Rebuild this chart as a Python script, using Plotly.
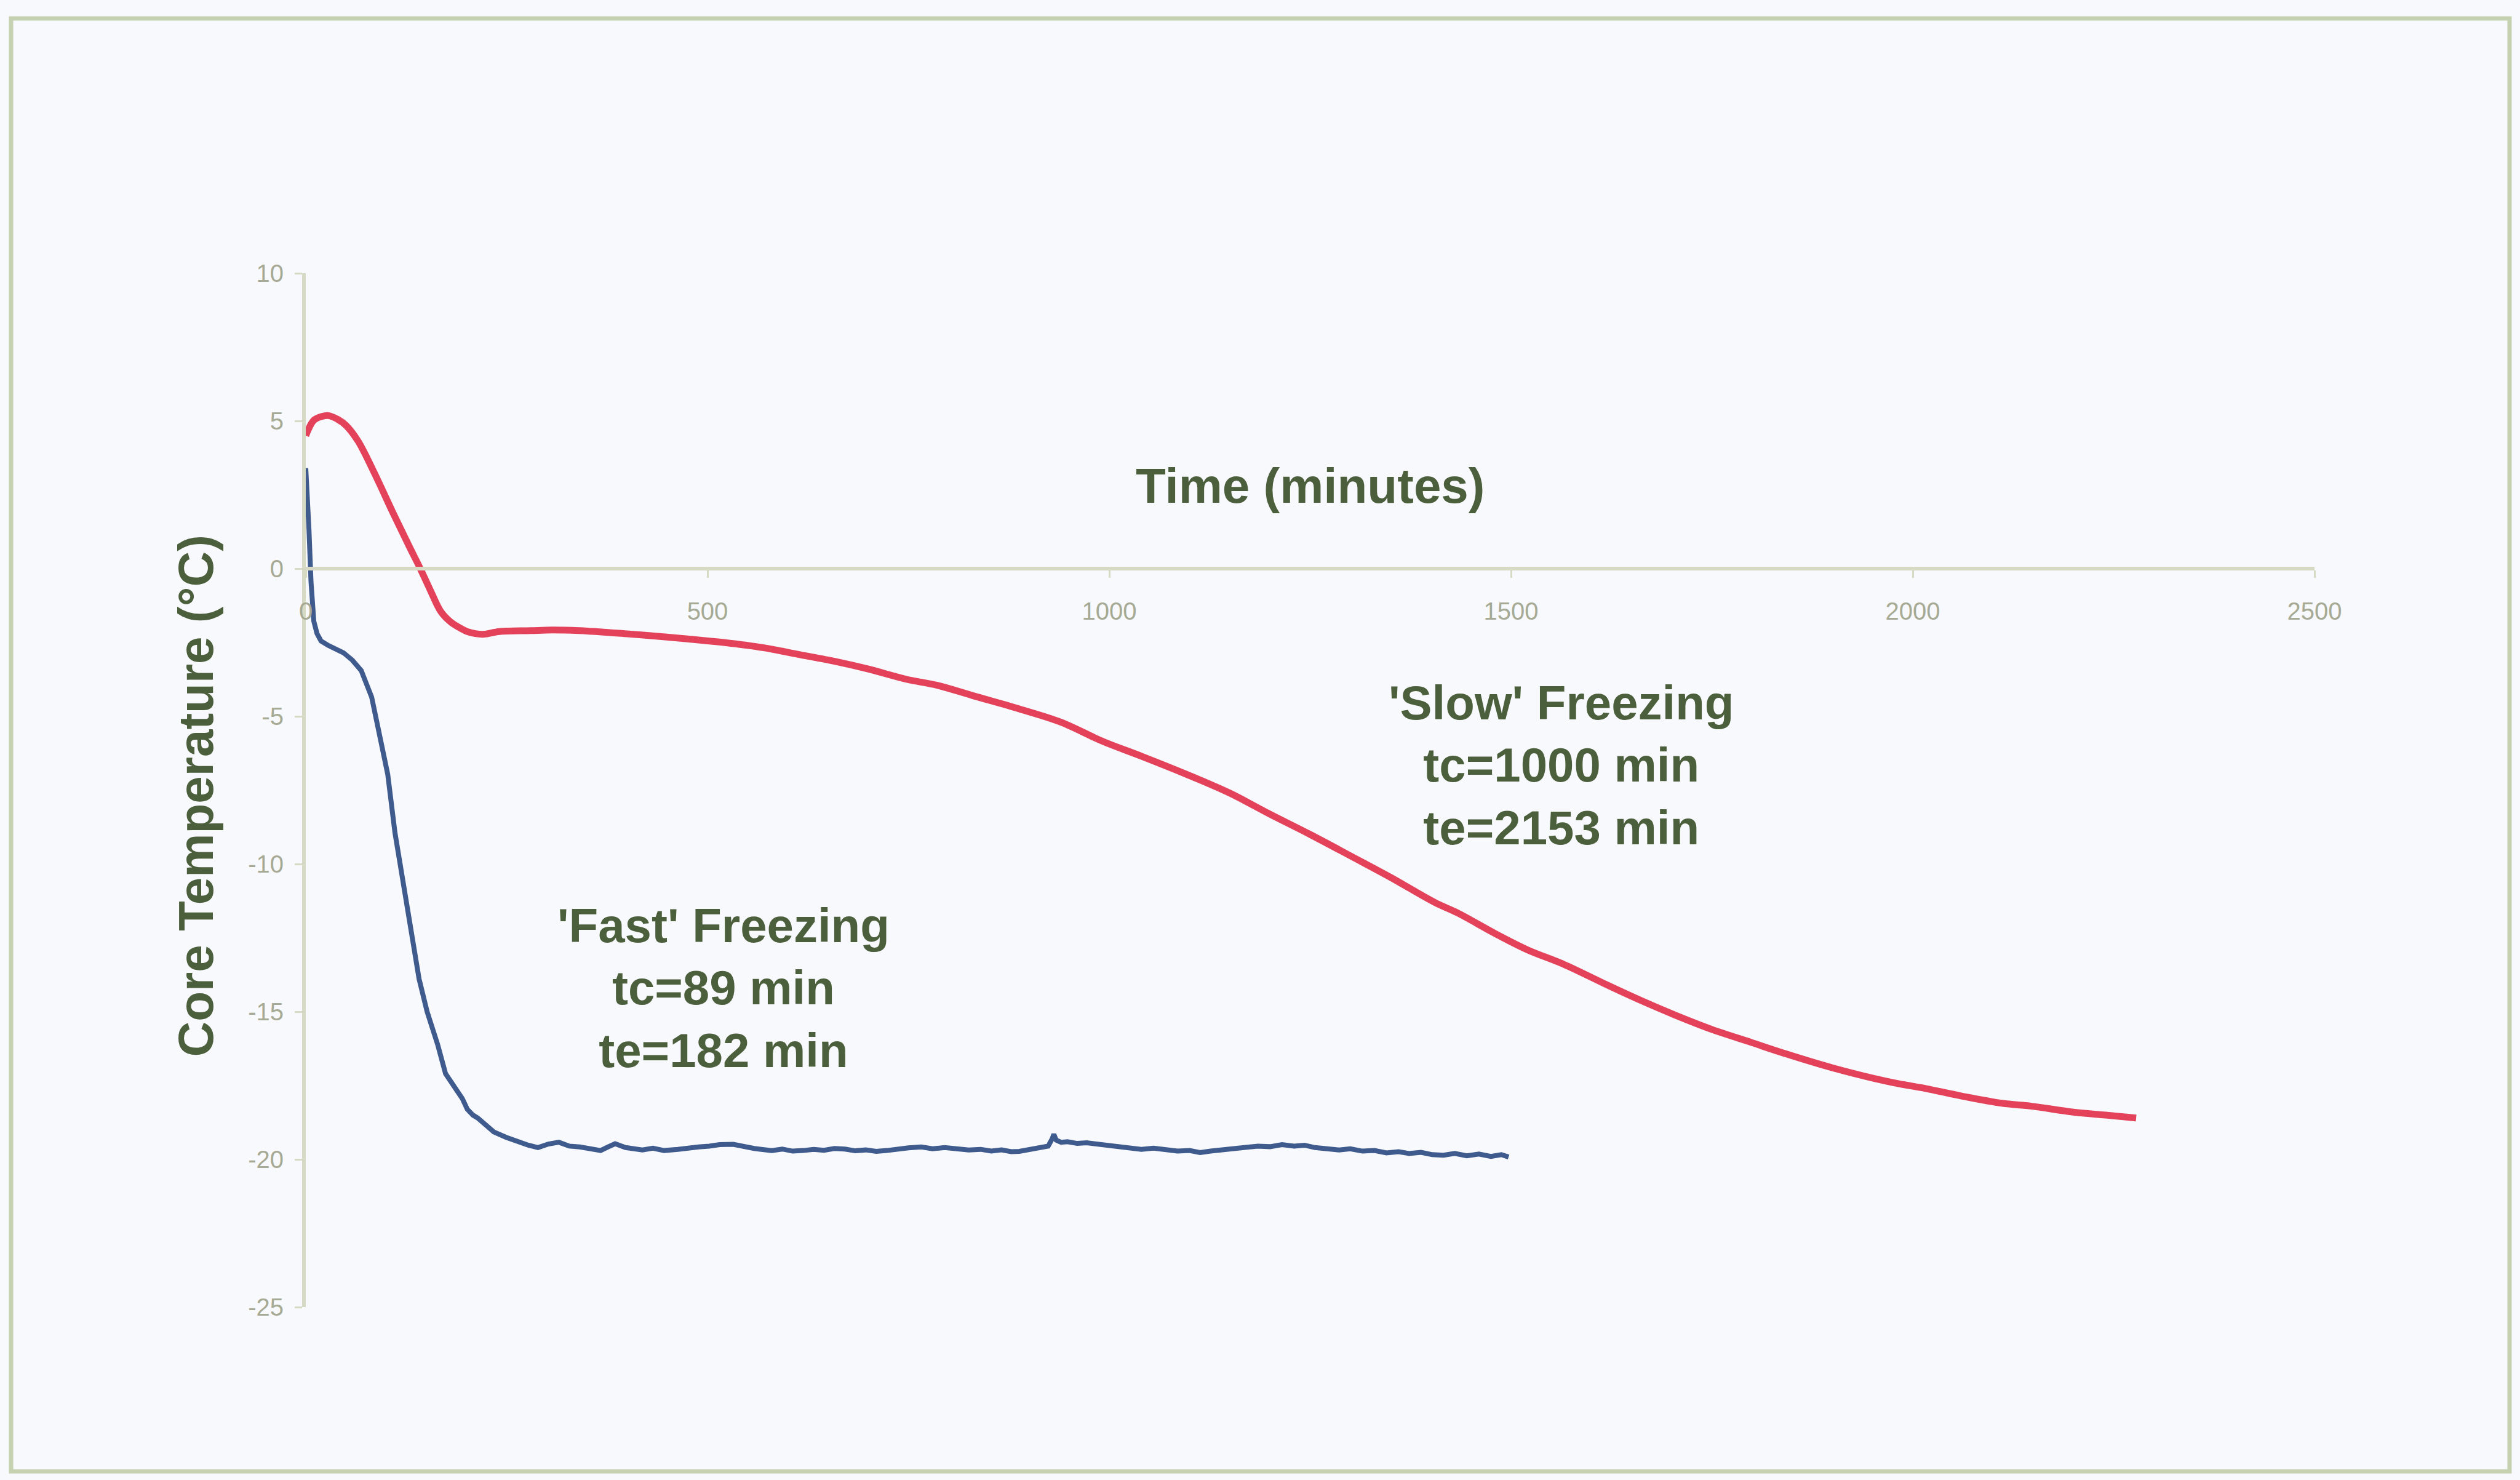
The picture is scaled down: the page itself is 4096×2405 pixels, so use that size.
import plotly.graph_objects as go

# ---------------- data ----------------
slow_time = [0, 10, 20, 28, 40, 50, 65, 86, 108, 129, 142, 155, 168, 180, 190, 200,
             211, 222, 241, 280, 306, 340, 380, 420, 475, 520, 570, 612, 660, 700,
             748, 786, 830, 888, 940, 992, 1040, 1095, 1150, 1199, 1250, 1302, 1350,
             1405, 1433, 1480, 1520, 1566, 1620, 1660, 1703, 1750, 1800, 1839, 1900,
             1975, 2016, 2060, 2111, 2148, 2200, 2240, 2278]
slow_temp = [4.5, 5.02, 5.15, 5.18, 5.05, 4.85, 4.32, 3.2, 1.92, 0.74, 0.03, -0.73,
             -1.45, -1.8, -1.98, -2.12, -2.2, -2.22, -2.13, -2.1, -2.08, -2.1, -2.17,
             -2.25, -2.38, -2.5, -2.68, -2.9, -3.15, -3.4, -3.75, -3.95, -4.3, -4.75,
             -5.2, -5.85, -6.35, -6.95, -7.6, -8.3, -9.0, -9.75, -10.45, -11.3, -11.65,
             -12.35, -12.9, -13.4, -14.1, -14.6, -15.1, -15.6, -16.05, -16.4, -16.9,
             -17.4, -17.6, -17.85, -18.1, -18.2, -18.4, -18.5, -18.6]

fast_time = [0, 2, 4, 6.5, 8, 10, 14, 19, 28, 36, 47, 58, 69, 82, 91, 102, 111, 121,
             131, 141, 151, 164, 174, 181, 187, 195, 201, 208, 214, 224, 234, 249,
             264, 277, 289, 302, 315, 328, 341, 354, 367, 376, 385, 398, 410, 419, 432,
             446, 463, 476, 489, 502, 515, 532, 545, 558, 567, 580, 593, 606, 619, 632,
             645, 658, 671, 684, 697, 710, 723, 736, 750, 766, 780, 795, 810, 825, 840,
             853, 866, 878, 888, 900, 914, 924, 929, 931, 934, 940, 948, 960, 972, 983,
             996, 1010, 1026, 1040, 1055, 1070, 1085, 1100, 1113, 1126, 1140, 1156,
             1170, 1185, 1200, 1215, 1230, 1243, 1256, 1270, 1286, 1300, 1315, 1330,
             1345, 1360, 1373, 1388, 1402, 1416, 1430, 1445, 1460, 1475, 1488, 1497]
fast_temp = [3.4, 2.5, 1.3, -0.44, -1.2, -1.78, -2.2, -2.45, -2.6, -2.72, -2.85, -3.1,
             -3.45, -4.35, -5.48, -6.96, -8.94, -10.66, -12.14, -13.89, -15.0, -16.1,
             -17.1, -17.4, -17.6, -17.95, -18.3, -18.5, -18.6, -18.85, -19.07, -19.25,
             -19.4, -19.52, -19.6, -19.48, -19.42, -19.55, -19.58, -19.64, -19.7, -19.58,
             -19.47, -19.6, -19.66, -19.68, -19.62, -19.7, -19.66, -19.6, -19.58, -19.55,
             -19.5, -19.49, -19.57, -19.63, -19.66, -19.7, -19.65, -19.72, -19.7, -19.66,
             -19.69, -19.63, -19.65, -19.71, -19.68, -19.73, -19.7, -19.65, -19.61,
             -19.58, -19.64, -19.6, -19.63, -19.68, -19.66, -19.72, -19.68, -19.74,
             -19.73, -19.66, -19.58, -19.55, -19.3, -19.15, -19.35, -19.42, -19.4,
             -19.46, -19.44, -19.47, -19.53, -19.57, -19.61, -19.66, -19.62, -19.66,
             -19.72, -19.7, -19.77, -19.72, -19.68, -19.64, -19.6, -19.55, -19.57, -19.5,
             -19.55, -19.52, -19.6, -19.63, -19.68, -19.64, -19.72, -19.7, -19.78,
             -19.74, -19.8, -19.76, -19.84, -19.86, -19.8, -19.88, -19.82, -19.9,
             -19.84, -19.92]

x_ticks = [0, 500, 1000, 1500, 2000, 2500]
y_ticks = [10, 5, 0, -5, -10, -15, -20, -25]

fast_label = "'Fast' Freezing<br>tc=89 min<br>te=182 min"
slow_label = "'Slow' Freezing<br>tc=1000 min<br>te=2153 min"
x_title = "Time (minutes)"
y_title = "Core Temperature (°C)"

# ---------------- layout geometry (output pixels) ----------------
W, H = 4096, 2405
L, R, T, B = 497, 334, 444, 281
PW, PH = W - L - R, H - T - B

def px_to_paper_x(px):
    return (px - L) / PW

def px_to_paper_y(py):
    return (H - B - py) / PH

TEXT = "#4c5f3c"
TICK = "#a6aa94"
AXIS = "#d6dac4"
FONT = "Liberation Sans, Arial, sans-serif"
BG = "#f8f9fc"

fig = go.Figure()
fig.add_trace(go.Scatter(x=slow_time, y=slow_temp, mode="lines",
                         line=dict(color="#e4415a", width=11, shape="spline", smoothing=1.0),
                         showlegend=False, hoverinfo="skip"))
fig.add_trace(go.Scatter(x=fast_time, y=fast_temp, mode="lines",
                         line=dict(color="#3f5b8e", width=8),
                         showlegend=False, hoverinfo="skip"))

fig.update_layout(
    width=W, height=H,
    margin=dict(l=L, r=R, t=T, b=B, pad=0),
    paper_bgcolor=BG, plot_bgcolor=BG,
    font=dict(family=FONT, color=TEXT),
    xaxis=dict(range=[0, 2500], tickvals=x_ticks, ticktext=[str(v) for v in x_ticks],
               showgrid=False, zeroline=False, showline=True, linecolor=AXIS, linewidth=6,
               ticks="outside", ticklen=12, tickwidth=3, tickcolor=AXIS,
               tickfont=dict(size=40, color=TICK, family=FONT),
               anchor="free", position=25 / 35, ticklabelstandoff=20),
    yaxis=dict(range=[-25, 10], tickvals=y_ticks, ticktext=[str(v) for v in y_ticks],
               showgrid=False, zeroline=False, showline=True, linecolor=AXIS, linewidth=6,
               ticks="outside", ticklen=12, tickwidth=3, tickcolor=AXIS,
               tickfont=dict(size=40, color=TICK, family=FONT), ticklabelstandoff=10),
)

note_font = dict(family=FONT, size=78, color=TEXT, weight="bold")
title_font = dict(family=FONT, size=80, color=TEXT, weight="bold")
fig.add_annotation(x=520, y=-14.2, xref="x", yref="y", text=fast_label, showarrow=False,
                   align="center", font=note_font, xanchor="center", yanchor="middle")
fig.add_annotation(x=1563, y=-6.65, xref="x", yref="y", text=slow_label, showarrow=False,
                   align="center", font=note_font, xanchor="center", yanchor="middle")
fig.add_annotation(x=1250, y=2.8, xref="x", yref="y", text=x_title, showarrow=False,
                   font=title_font, xanchor="center", yanchor="middle")
fig.add_annotation(x=px_to_paper_x(319), y=-7.7, xref="paper", yref="y", text=y_title,
                   showarrow=False, textangle=-90, font=title_font,
                   xanchor="center", yanchor="middle")

# outer frame of the chart area
fig.add_shape(type="rect", xref="paper", yref="paper",
              x0=px_to_paper_x(18), x1=px_to_paper_x(4079),
              y0=px_to_paper_y(2391), y1=px_to_paper_y(30),
              line=dict(color="#c6d1b2", width=7), fillcolor="rgba(0,0,0,0)", layer="below")

fig.write_html("out.html")
